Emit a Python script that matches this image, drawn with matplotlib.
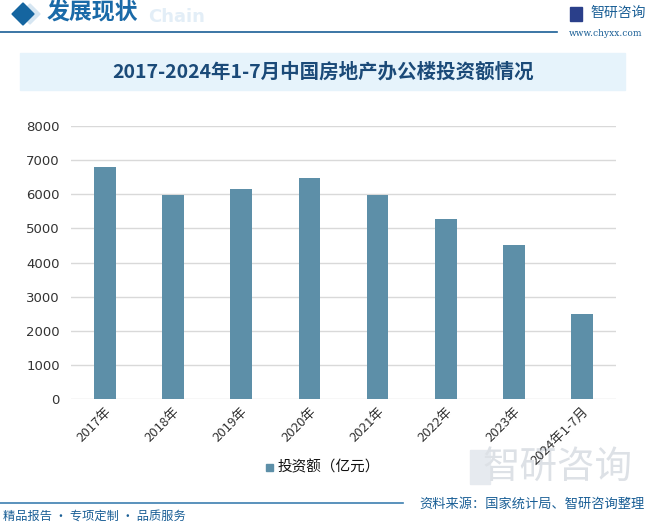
import matplotlib
matplotlib.use('Agg')
import matplotlib.pyplot as plt
from matplotlib.patches import Rectangle, Polygon
import numpy as np

plt.rcParams['font.family'] = ['Noto Sans CJK SC', 'DejaVu Sans']

# data
years = ['2017年', '2018年', '2019年', '2020年', '2021年', '2022年', '2023年', '2024年1-7月']
invest = [6800, 5980, 6155, 6480, 5975, 5277, 4516, 2497]
series_name = '投资额（亿元）'
title = '2017-2024年1-7月中国房地产办公楼投资额情况'
yticks = [0, 1000, 2000, 3000, 4000, 5000, 6000, 7000, 8000]

W, H = 647, 525
fig = plt.figure(figsize=(W / 100, H / 100), dpi=100)

def fx(px):
    return px / W

def fy(py):
    return 1 - py / H

# header
fig.patches.append(Polygon([[fx(30), fy(4)], [fx(40), fy(14)], [fx(30), fy(24)], [fx(20), fy(14)]],
                           closed=True, transform=fig.transFigure, color='#d6e6f2', zorder=1))
fig.patches.append(Polygon([[fx(23), fy(3)], [fx(34), fy(14)], [fx(23), fy(25)], [fx(12), fy(14)]],
                           closed=True, transform=fig.transFigure, color='#1565a0', zorder=2))
fig.text(fx(148), fy(17), 'Chain', fontsize=13, color='#e3eef7', fontweight='bold',
         ha='left', va='center', family='DejaVu Sans')
fig.text(fx(47), fy(13), '发展现状', fontsize=16.5, color='#1a6aa8', fontweight='bold',
         ha='left', va='center')
fig.add_artist(plt.Line2D([0, fx(557)], [fy(32), fy(32)], transform=fig.transFigure,
                          color='#1a5f96', lw=1.2))
# logo
fig.patches.append(Rectangle((fx(570), fy(21)), fx(12), 14 / H, transform=fig.transFigure,
                             color='#2a3f8a', zorder=2))
fig.text(fx(590), fy(13), '智研咨询', fontsize=10, color='#1a5f96', ha='left', va='center')
fig.text(fx(606), fy(33), 'www.chyxx.com', fontsize=6.5, color='#1a5f96', ha='center', va='center',
         family='DejaVu Serif')

# title box
fig.patches.append(Rectangle((fx(20), fy(90)), fx(605), 37 / H, transform=fig.transFigure,
                             color='#e6f3fb', zorder=0))
fig.text(fx(323), fy(72), title, fontsize=14, color='#1b4a78', fontweight='bold',
         ha='center', va='center')

# chart
ax = fig.add_axes([fx(71), fy(399.3), fx(545), (399.3 - 126) / H])
x = np.arange(len(years))
ax.bar(x, invest, width=0.32, color='#5d8fa8', zorder=3, label=series_name)
ax.set_xlim(-0.5, len(years) - 0.5)
ax.set_ylim(0, 8000)
ax.set_yticks(yticks)
ax.set_yticklabels([str(v) for v in yticks], fontsize=9.5, color='#333333', family='DejaVu Sans')
ax.set_xticks(x)
ax.set_xticklabels(years, rotation=45, ha='right', va='top', rotation_mode='anchor',
                   fontsize=9.5, color='#333333')
ax.tick_params(axis='both', length=0, pad=8)
ax.tick_params(axis='x', pad=4)
ax.grid(axis='y', color='#d9d9d9', lw=1, zorder=0)
for s in ax.spines.values():
    s.set_visible(False)
ax.set_facecolor('none')

# legend
fig.patches.append(Rectangle((fx(266), fy(471)), fx(7), 7 / H, transform=fig.transFigure,
                             color='#5d8fa8'))
fig.text(fx(278), fy(467), series_name, fontsize=10.5, color='#111111', ha='left', va='center')

# big grey logo watermark
fig.patches.append(Rectangle((fx(470), fy(484)), fx(20), 34 / H, transform=fig.transFigure,
                             color='#e6eaef', zorder=-1))
fig.text(fx(558), fy(467), '智研咨询', fontsize=27, color='#dde1e6', ha='center', va='center', zorder=-1)

# footer
fig.add_artist(plt.Line2D([0, fx(403)], [fy(503), fy(503)], transform=fig.transFigure,
                          color='#3d7fb0', lw=1.2))
fig.text(fx(3), fy(516), '精品报告 · 专项定制 · 品质服务', fontsize=8.8, color='#1a5f96',
         ha='left', va='center')
fig.text(fx(645), fy(504), '资料来源：国家统计局、智研咨询整理', fontsize=9.5, color='#1a5f96',
         ha='right', va='center')

fig.savefig('out.png', dpi=100)
